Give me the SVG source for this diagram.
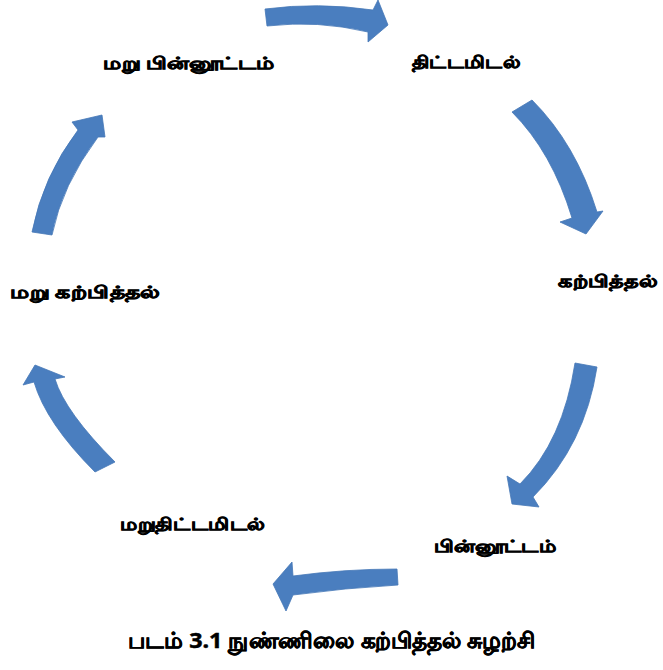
<svg xmlns="http://www.w3.org/2000/svg" width="663" height="670" viewBox="0 0 663 670">
<style>
.arrow{fill:#4a7ebf;stroke:#4577b6;stroke-width:0.8;stroke-linejoin:round}
.lbl{font-family:"Noto Sans","DejaVu Sans",sans-serif;font-weight:bold;font-size:17px;fill:#000;stroke:#000;stroke-width:0.7}
.cap{font-family:"Noto Sans","DejaVu Sans",sans-serif;font-weight:bold;font-size:22px;fill:#000;stroke:#000;stroke-width:0.5}
</style>
<rect width="663" height="670" fill="#fff"/>
<g id="connectors">
<path class="arrow" d="M265,9 Q318,2 373,10 L378,0 L388,25 L368,42 L368,32 Q318,20 267,26 Z"/>
<path class="arrow" d="M512,112 L532,100 Q576,144 597,212 L603,211 L586,234 L560,222 L572,218 Q552,152 512,112 Z"/>
<path class="arrow" d="M575,363 L597,367 Q585,445 533,497 L539,507 L512,504 L507,476 L520,484 Q563,441 575,363 Z"/>
<path class="arrow" d="M397,569 Q345,569 293,576 L292,562 L273,584 L286,611 L293,595 Q345,588 398,585 Z"/>
<path class="arrow" d="M95,472 Q46,423 34,382 L23,385 L35,365 L65,377 L55,379 Q65,412 115,462 Z"/>
<path class="arrow" d="M32,232 Q43,176 78,130 L72,122 L102,115 L105,137 L98,137 Q62,185 52,235 Z"/>
</g>
<g id="node-marupinnoottam"><text class="lbl" x="103" y="69" textLength="172" lengthAdjust="spacingAndGlyphs">மறு பின்னூட்டம்</text></g>
<g id="node-thittamidal"><text class="lbl" x="412" y="68" textLength="108" lengthAdjust="spacingAndGlyphs">திட்டமிடல்</text></g>
<g id="node-karpithal"><text class="lbl" x="558" y="287" textLength="99" lengthAdjust="spacingAndGlyphs">கற்பித்தல்</text></g>
<g id="node-marukarpithal"><text class="lbl" x="10" y="298" textLength="150" lengthAdjust="spacingAndGlyphs">மறு கற்பித்தல்</text></g>
<g id="node-maruthittamidal"><text class="lbl" x="120" y="530" textLength="145" lengthAdjust="spacingAndGlyphs">மறுதிட்டமிடல்</text></g>
<g id="node-pinnoottam"><text class="lbl" x="434" y="552" textLength="123" lengthAdjust="spacingAndGlyphs">பின்னூட்டம்</text></g>
<g id="caption"><text class="cap" x="128" y="648" textLength="407" lengthAdjust="spacingAndGlyphs">படம் 3.1 நுண்ணிலை கற்பித்தல் சுழற்சி</text></g>
</svg>
